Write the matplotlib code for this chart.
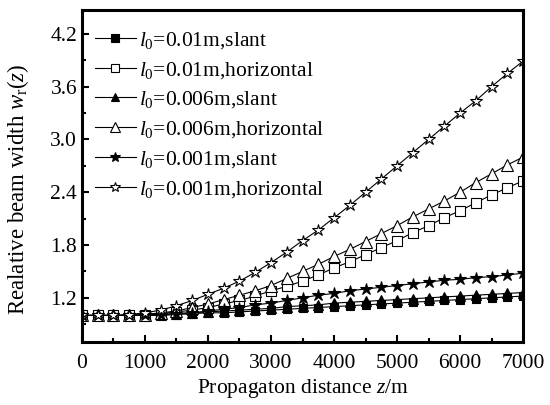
import numpy as np
import matplotlib
matplotlib.use('Agg')
import matplotlib.pyplot as plt
from matplotlib.ticker import MultipleLocator, FormatStrFormatter

plt.rcParams['font.family'] = 'Liberation Serif'
plt.rcParams['mathtext.fontset'] = 'custom'
plt.rcParams['mathtext.rm'] = 'Liberation Serif'
plt.rcParams['mathtext.it'] = 'Liberation Serif:italic'

# propagation distance (m), one point every 250 m
z = np.arange(0, 7001, 250)

# relative beam width
s_001 = [1.00, 1.00, 1.00, 1.00, 1.01, 1.01, 1.02, 1.03, 1.05, 1.07, 1.09, 1.12, 1.14, 1.17, 1.20,
         1.23, 1.25, 1.28, 1.30, 1.32, 1.34, 1.36, 1.38, 1.40, 1.41, 1.43, 1.44, 1.46, 1.48]
h_001 = [1.00, 1.00, 1.00, 1.01, 1.03, 1.06, 1.11, 1.17, 1.24, 1.31, 1.39, 1.49, 1.60, 1.72, 1.85,
         1.97, 2.11, 2.25, 2.40, 2.55, 2.70, 2.85, 3.00, 3.15, 3.30, 3.44, 3.60, 3.75, 3.89]
s_006 = [1.00, 1.00, 1.00, 1.00, 1.00, 1.01, 1.02, 1.03, 1.04, 1.05, 1.06, 1.07, 1.08, 1.10, 1.11,
         1.12, 1.14, 1.15, 1.16, 1.17, 1.18, 1.19, 1.20, 1.21, 1.22, 1.23, 1.24, 1.25, 1.26]
h_006 = [1.00, 1.00, 1.00, 1.00, 1.01, 1.03, 1.05, 1.09, 1.13, 1.18, 1.23, 1.28, 1.34, 1.42, 1.50,
         1.58, 1.67, 1.75, 1.84, 1.93, 2.02, 2.12, 2.21, 2.30, 2.40, 2.51, 2.61, 2.71, 2.80]
s_01 = [1.00, 1.00, 1.00, 1.00, 1.00, 1.00, 1.01, 1.02, 1.03, 1.03, 1.04, 1.05, 1.06, 1.07, 1.08,
        1.09, 1.10, 1.11, 1.12, 1.13, 1.14, 1.15, 1.16, 1.17, 1.18, 1.19, 1.20, 1.21, 1.22]
h_01 = [1.00, 1.00, 1.00, 1.00, 1.01, 1.02, 1.04, 1.06, 1.09, 1.13, 1.17, 1.22, 1.28, 1.33, 1.39,
        1.46, 1.54, 1.61, 1.69, 1.77, 1.85, 1.94, 2.02, 2.11, 2.19, 2.28, 2.37, 2.45, 2.53]

labels = [r'$l_0$=0.01m,slant', r'$l_0$=0.01m,horizontal',
          r'$l_0$=0.006m,slant', r'$l_0$=0.006m,horizontal',
          r'$l_0$=0.001m,slant', r'$l_0$=0.001m,horizontal']
series = [s_01, h_01, s_006, h_006, s_001, h_001]
markers = ['s', 's', '^', '^', '*', '*']
fills = ['black', 'white', 'black', 'white', 'black', 'white']
sizes = [6, 6.5, 7, 8, 9, 9]

fig = plt.figure(figsize=(5.5, 4.05), dpi=100)
ax = fig.add_axes([0.149, 0.156, 0.802, 0.819])

for y, lab, m, fc, ms in zip(series, labels, markers, fills, sizes):
    ax.plot(z, y, color='black', linewidth=0.8, marker=m, markersize=ms,
            markerfacecolor=fc, markeredgecolor='black', markeredgewidth=0.8, label=lab)

ax.set_xlim(0, 7000)
ax.set_ylim(0.70, 4.47)
ax.xaxis.set_major_locator(MultipleLocator(1000))
ax.xaxis.set_minor_locator(MultipleLocator(500))
ax.yaxis.set_minor_locator(MultipleLocator(0.3))
ax.set_yticks(np.arange(1.2, 4.3, 0.6))
ax.yaxis.set_major_formatter(FormatStrFormatter('%.1f'))
ax.tick_params(which='both', direction='in', width=1.5, labelsize=15.5)
ax.tick_params(which='major', length=5)
ax.tick_params(which='minor', length=3)
ax.tick_params(axis='x', pad=9)
for s in ax.spines.values():
    s.set_linewidth(2.2)

ax.set_xlabel(r'Propagaton distance $z$/m', fontsize=15.5, labelpad=3)
ax.set_ylabel(r'Realative beam width $w_\mathrm{r}(z)$', fontsize=16.5)
ax.yaxis.set_label_coords(-0.115, 0.46)

ax.legend(loc='upper left', frameon=False, fontsize=15.5, handlelength=1.9,
          handletextpad=0.15, labelspacing=0.42, borderaxespad=0.2,
          markerscale=0.85, bbox_to_anchor=(0.0, 0.98))

fig.savefig('out.png', dpi=100)
